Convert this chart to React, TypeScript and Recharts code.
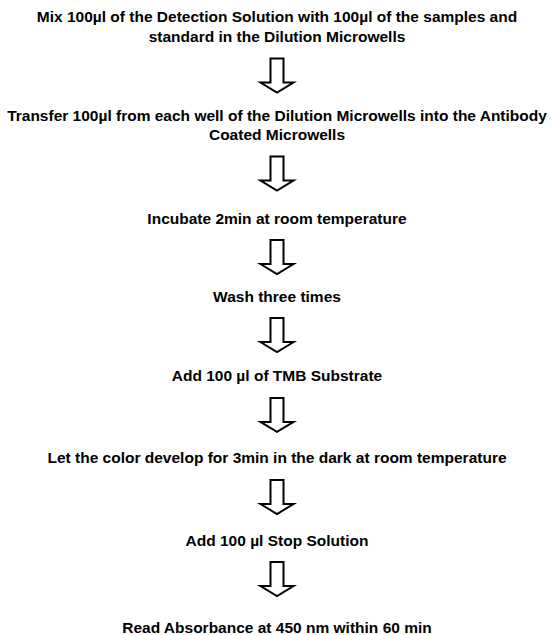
import React from 'react';
import { ScatterChart, Scatter, XAxis, YAxis } from 'recharts';

// Text of each step of the protocol (one entry per line)
const stepLines: string[][] = [
  ['Mix 100µl of the Detection Solution with 100µl of the samples and', 'standard in the Dilution Microwells'],
  ['Transfer 100µl from each well of the Dilution Microwells into the Antibody', 'Coated Microwells'],
  ['Incubate 2min at room temperature'],
  ['Wash three times'],
  ['Add 100 µl of TMB Substrate'],
  ['Let the color develop for 3min in the dark at room temperature'],
  ['Add 100 µl Stop Solution'],
  ['Read Absorbance at 450 nm within 60 min'],
];

// Vertical position of each step's first line, in text-row units
const stepRows: number[] = [0.87, 5.89, 11.16, 15.15, 19.24, 23.44, 27.64, 32.14];

const ROW_TOTAL = 32.5;
const WIDTH = 554;
const HEIGHT = 635;
const LINE_GAP = 19.5;

const data = stepLines.map((lines, i) => ({
  x: 0.5,
  y: stepRows[i],
  lines,
  arrow: i < stepLines.length - 1,
}));

const StepShape = (props: any) => {
  const { cx, cy, payload } = props;
  const lines: string[] = payload.lines;
  const lastY = cy + (lines.length - 1) * LINE_GAP;
  const t = lastY + 22;
  const sw = 6.5;
  const hw = 16.5;
  const arrowPath = `M${cx - sw},${t} L${cx + sw},${t} L${cx + sw},${t + 24} L${cx + hw},${t + 24} L${cx},${t + 34} L${cx - hw},${t + 24} L${cx - sw},${t + 24} Z`;
  return (
    <g>
      {lines.map((ln, i) => (
        <text
          key={i}
          x={cx}
          y={cy + i * LINE_GAP}
          textAnchor="middle"
          dominantBaseline="central"
          fontFamily="'Liberation Sans', Arial, sans-serif"
          fontWeight="bold"
          fontSize={15.5}
          fill="#000"
        >
          {ln}
        </text>
      ))}
      {payload.arrow && (
        <path d={arrowPath} fill="#fff" stroke="#000" strokeWidth={2} strokeLinejoin="miter" />
      )}
    </g>
  );
};

export default function App() {
  return (
    <div style={{ position: 'absolute', left: 0, top: 0, width: WIDTH, height: HEIGHT, background: '#fff' }}>
      <ScatterChart width={WIDTH} height={HEIGHT} margin={{ top: 0, right: 0, bottom: 0, left: 0 }}>
        <XAxis type="number" dataKey="x" domain={[0, 1]} hide />
        <YAxis type="number" dataKey="y" domain={[0, ROW_TOTAL]} reversed hide />
        <Scatter data={data} shape={StepShape} isAnimationActive={false} />
      </ScatterChart>
    </div>
  );
}
